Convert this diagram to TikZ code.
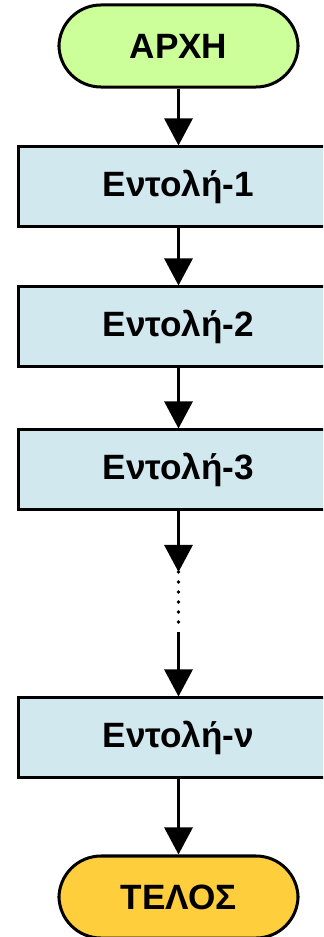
\documentclass[tikz,border=0pt]{standalone}
\usepackage{fontspec}
\setmainfont{Liberation Sans}
\usetikzlibrary{arrows.meta}

\definecolor{startgreen}{RGB}{204,255,153}
\definecolor{cmdblue}{RGB}{208,232,238}
\definecolor{stopgold}{RGB}{255,206,60}

\begin{document}
\begin{tikzpicture}[x=0.025cm, y=-0.025cm, line width=0.075cm,
    font=\fontsize{25}{30}\selectfont\bfseries,
    term/.style={draw, rectangle, rounded corners=1.05cm, minimum width=5.975cm, minimum height=2.05cm},
    cmd/.style={draw, rectangle, fill=cmdblue, minimum width=7.975cm, minimum height=1.975cm},
    arrow/.style={-{Triangle[width=0.7cm, length=0.675cm]}}]
  \useasboundingbox (0,0) rectangle (323,937);
  \clip (0,0) rectangle (323,937);

  \node[name=start, term, fill=startgreen] at (178.5,46) {ΑΡΧΗ};
  \node[name=c1, cmd] at (178.5,186.5) {Εντολή-1};
  \node[name=c2, cmd] at (178.5,326.5) {Εντολή-2};
  \node[name=c3, cmd] at (178.5,469.5) {Εντολή-3};
  \coordinate (d1) at (178.5,572);
  \coordinate (d2) at (178.5,632);
  \node[name=cn, cmd] at (178.5,737.5) {Εντολή-ν};
  \node[name=stop, term, fill=stopgold] at (178.5,897) {ΤΕΛΟΣ};

  \draw[arrow] (start) -- (c1);
  \draw[arrow] (c1) -- (c2);
  \draw[arrow] (c2) -- (c3);
  \draw[arrow] (c3) -- (d1);
  \draw[line width=0.09cm, line cap=round, dash pattern=on 0pt off 0.25cm] (d1) -- (d2);
  \draw[arrow] (d2) -- (cn);
  \draw[arrow] (cn) -- (stop);
\end{tikzpicture}
\end{document}
